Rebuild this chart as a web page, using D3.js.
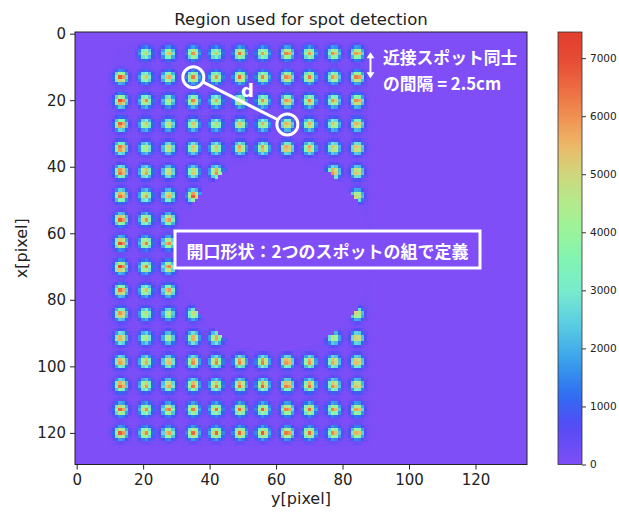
<!DOCTYPE html>
<html>
<head>
<meta charset="utf-8">
<script src="https://cdn.jsdelivr.net/npm/d3@7"></script>
<style>
  body { margin: 0; background: #fff; }
  text { font-family: "DejaVu Sans", sans-serif; fill: #222; }
  .jp { font-family: "Noto Sans CJK JP", "Noto Sans", sans-serif; font-weight: 700; fill: #fff; }
</style>
</head>
<body>
<svg id="chart" width="619" height="513"></svg>
<script>
// Image size in pixels
const imageCols = 136;
const imageRows = 130;

// Spot grid: column centres (horizontal, y[pixel]) and row centres (vertical, x[pixel])
const spotCols = [13.3, 20.8, 27.6, 35.1, 41.9, 49.1, 56.1, 63.4, 70.1, 77.3, 84.4];
const spotRows = [5.9, 13.1, 20.2, 27.3, 34.4, 41.6, 48.7, 55.8, 62.9, 70.1, 77.2, 84.3, 91.5, 98.6, 105.7, 112.9, 120.0];

// Peak counts of each spot (null = no spot at that grid point)
const spotPeaks = [
  [null, 5200, 5600, 6000, 5300, 6300, 5800, 6400, 5900, 6200, 6100],
  [7000, 5400, 6000, 6300, 6000, 6500, 6200, 6400, 6300, 6100, 6600],
  [7200, 6200, 5000, 6300, 5800, 6000, 6100, 6300, 6200, 6200, 6500],
  [7000, 5600, 5300, 5500, 5400, 5600, 5800, 6000, 5800, 5600, 6000],
  [6800, 5200, 5500, 5600, 5800, 6100, 6200, 6300, 6000, 5800, 5900],
  [6900, 6200, 5600, 5500, 6400, null, null, null, null, 6500, 5800],
  [6800, 6000, 6100, 6900, null, null, null, null, null, null, 5400],
  [7000, 6200, 6300, null, null, null, null, null, null, null, null],
  [7100, 6300, 6400, null, null, null, null, null, null, null, null],
  [7100, 6300, 6500, null, null, null, null, null, null, null, null],
  [6700, 5600, 6200, null, null, null, null, null, null, null, null],
  [6300, 5200, 4800, 5000, null, null, null, null, null, null, 5400],
  [6200, 5300, 5000, 6100, 6200, null, null, null, null, 5200, 5800],
  [6300, 6000, 6000, 6400, 6500, 6500, 6600, 6500, 6300, 6200, 6000],
  [6800, 6100, 6200, 6500, 6400, 6600, 6800, 6700, 6600, 6400, 5800],
  [6800, 6100, 6600, 6300, 6400, 6500, 6600, 6500, 6500, 6400, 6100],
  [6900, 6200, 6100, 6500, 6600, 6600, 6700, 6600, 6500, 6300, 5900]
];
const spotSigma = 1.2;

// Circular aperture (pixels): spots inside it are masked out
const aperture = { cx: 59.9, cy: 66.4, r: 29.3 };
// Rectangular area that holds the spot pattern, and its faint background level
const patternArea = { x0: 10, y0: 2.5, x1: 88.5, y1: 124, corner: 10, level: 60 };

// Colour map stops (counts -> colour)
const cmapStops = [0, 700, 1200, 1800, 2500, 3000, 3500, 4000, 4500, 5000, 5500, 6000, 6500, 7000, 7450];
const cmapColors = ["#7f4ef7", "#524cf5", "#2f6ef1", "#3aa2ec", "#5fd2e1", "#78ebcc", "#80f4b4", "#99f59b",
                    "#b4ea8c", "#cfd77c", "#eeb868", "#f09052", "#ec6a40", "#e64a33", "#e23e30"];
const vmax = 7450;

// Tick values
const xTicks = [0, 20, 40, 60, 80, 100, 120];
const yTicks = [0, 20, 40, 60, 80, 100, 120];
const cbarTicks = [0, 1000, 2000, 3000, 4000, 5000, 6000, 7000];

const svg = d3.select("#chart");

const x = d3.scaleLinear().domain([-0.5, imageCols - 0.5]).range([75, 527]);
const y = d3.scaleLinear().domain([-0.5, imageRows - 0.5]).range([32, 464.5]);
const color = d3.scaleLinear().domain(cmapStops).range(cmapColors)
  .interpolate(d3.interpolateRgb).clamp(true);

// ---- Build spot intensities on the pixel grid ----
const cells = new Map();
spotPeaks.forEach((row, ri) => {
  row.forEach((peak, ci) => {
    if (peak == null) return;
    const cx = spotCols[ci], cy = spotRows[ri];
    const c0 = Math.round(cx), r0 = Math.round(cy);
    for (let r = r0 - 4; r <= r0 + 4; r++) {
      for (let c = c0 - 4; c <= c0 + 4; c++) {
        const d2 = (c - cx) ** 2 + (r - cy) ** 2;
        const v = peak * Math.exp(-d2 / (2 * spotSigma * spotSigma));
        const key = r * imageCols + c;
        cells.set(key, (cells.get(key) || 0) + v);
      }
    }
  });
});
const insideAperture = (c, r) => Math.hypot(c - aperture.cx, r - aperture.cy) < aperture.r;
const cellData = [];
cells.forEach((v, key) => {
  const r = Math.floor(key / imageCols), c = key % imageCols;
  if (insideAperture(c, r)) return;
  if (v > 40) cellData.push({ r, c, v: v + patternArea.level });
});

// ---- Image ----
const img = svg.append("g");
img.append("rect")
  .attr("x", x(-0.5)).attr("y", y(-0.5))
  .attr("width", x(imageCols - 0.5) - x(-0.5)).attr("height", y(imageRows - 0.5) - y(-0.5))
  .attr("fill", color(0));

// pattern area minus aperture
const pa = patternArea;
const areaPath = d3.path();
const k = x(1) - x(0);
areaPath.moveTo(x(pa.x0), y(pa.y0 + pa.corner));
areaPath.quadraticCurveTo(x(pa.x0), y(pa.y0), x(pa.x0 + pa.corner), y(pa.y0));
areaPath.lineTo(x(pa.x1), y(pa.y0));
areaPath.lineTo(x(pa.x1), y(pa.y1));
areaPath.lineTo(x(pa.x0), y(pa.y1));
areaPath.closePath();
areaPath.moveTo(x(aperture.cx) + aperture.r * k, y(aperture.cy));
areaPath.arc(x(aperture.cx), y(aperture.cy), aperture.r * k, 0, 2 * Math.PI);
areaPath.closePath();
img.append("path").attr("d", areaPath.toString())
  .attr("fill", color(pa.level)).attr("fill-rule", "evenodd");

img.append("g").attr("shape-rendering", "crispEdges")
  .selectAll("rect").data(cellData).join("rect")
  .attr("x", d => x(d.c - 0.5))
  .attr("y", d => y(d.r - 0.5))
  .attr("width", d => x(d.c + 0.5) - x(d.c - 0.5) + 0.3)
  .attr("height", d => y(d.r + 0.5) - y(d.r - 0.5) + 0.3)
  .attr("fill", d => color(d.v));

// frame
svg.append("rect")
  .attr("x", x(-0.5)).attr("y", y(-0.5))
  .attr("width", x(imageCols - 0.5) - x(-0.5)).attr("height", y(imageRows - 0.5) - y(-0.5))
  .attr("fill", "none").attr("stroke", "#222").attr("stroke-width", 1);

// ---- Axes ----
const xAxis = svg.append("g").attr("transform", `translate(0,${y(imageRows - 0.5)})`)
  .call(d3.axisBottom(x).tickValues(xTicks).tickSize(5).tickPadding(5));
const yAxis = svg.append("g").attr("transform", `translate(${x(-0.5)},0)`)
  .call(d3.axisLeft(y).tickValues(yTicks).tickSize(5).tickPadding(4));
[xAxis, yAxis].forEach(g => {
  g.select(".domain").remove();
  g.selectAll(".tick line").attr("stroke", "#222");
  g.selectAll(".tick text").style("font-family", "DejaVu Sans").style("font-size", "15px").attr("fill", "#222");
});

svg.append("text").attr("x", (x(-0.5) + x(imageCols - 0.5)) / 2).attr("y", 25)
  .attr("text-anchor", "middle").style("font-size", "16.5px")
  .text("Region used for spot detection");
svg.append("text").attr("x", (x(-0.5) + x(imageCols - 0.5)) / 2).attr("y", 504)
  .attr("text-anchor", "middle").style("font-size", "16px").text("y[pixel]");
svg.append("text")
  .attr("transform", `translate(27,${(y(-0.5) + y(imageRows - 0.5)) / 2}) rotate(-90)`)
  .attr("text-anchor", "middle").style("font-size", "16px").text("x[pixel]");

// ---- Colour bar ----
const cb = { x: 558, w: 24 };
const cy = d3.scaleLinear().domain([0, vmax]).range([y(imageRows - 0.5), y(-0.5)]);
const grad = svg.append("defs").append("linearGradient").attr("id", "cbar")
  .attr("x1", 0).attr("y1", 1).attr("x2", 0).attr("y2", 0);
d3.range(0, 41).forEach(i => {
  const v = vmax * i / 40;
  grad.append("stop").attr("offset", i / 40).attr("stop-color", color(v));
});
svg.append("rect").attr("x", cb.x).attr("y", cy(vmax)).attr("width", cb.w)
  .attr("height", cy(0) - cy(vmax)).attr("fill", "url(#cbar)")
  .attr("stroke", "#333").attr("stroke-width", 0.8);
const cAxis = svg.append("g").attr("transform", `translate(${cb.x + cb.w},0)`)
  .call(d3.axisRight(cy).tickValues(cbarTicks).tickSize(4).tickPadding(4).tickFormat(d3.format("d")));
cAxis.select(".domain").remove();
cAxis.selectAll(".tick line").attr("stroke", "#333");
cAxis.selectAll(".tick text").style("font-family", "DejaVu Sans").style("font-size", "10.5px").attr("fill", "#222");

// ---- Annotations ----
const ann = svg.append("g");
const pA = [x(spotCols[3]), y(spotRows[1])];
const pB = [x(spotCols[7]), y(spotRows[3])];
const rr = 10.5;
[pA, pB].forEach(p => ann.append("circle").attr("cx", p[0]).attr("cy", p[1]).attr("r", rr)
  .attr("fill", "none").attr("stroke", "#fff").attr("stroke-width", 3));
const dx = pB[0] - pA[0], dy = pB[1] - pA[1], len = Math.hypot(dx, dy);
ann.append("line")
  .attr("x1", pA[0] + dx / len * rr).attr("y1", pA[1] + dy / len * rr)
  .attr("x2", pB[0] - dx / len * rr).attr("y2", pB[1] - dy / len * rr)
  .attr("stroke", "#fff").attr("stroke-width", 3);
ann.append("text").attr("x", (pA[0] + pB[0]) / 2 + 7).attr("y", (pA[1] + pB[1]) / 2 - 4)
  .attr("text-anchor", "middle")
  .style("font-family", "DejaVu Sans").style("font-weight", "700").style("font-size", "18px")
  .style("fill", "#fff").text("d");

// spacing arrow between neighbouring rows
const ax = x(88.4), ay0 = y(spotRows[0]) - 1, ay1 = y(spotRows[1]) + 1;
ann.append("line").attr("x1", ax).attr("x2", ax).attr("y1", ay0 + 5).attr("y2", ay1 - 5)
  .attr("stroke", "#fff").attr("stroke-width", 2);
ann.append("path").attr("d", `M${ax - 4},${ay0 + 6}L${ax},${ay0}L${ax + 4},${ay0 + 6}Z`).attr("fill", "#fff");
ann.append("path").attr("d", `M${ax - 4},${ay1 - 6}L${ax},${ay1}L${ax + 4},${ay1 - 6}Z`).attr("fill", "#fff");
ann.append("text").attr("class", "jp").attr("x", 383).attr("y", 64).style("font-size", "16.8px").text("近接スポット同士");
ann.append("text").attr("class", "jp").attr("x", 383).attr("y", 90).style("font-size", "16.8px").text("の間隔 = 2.5cm");

// aperture label box
ann.append("rect").attr("x", 175).attr("y", 231).attr("width", 305).attr("height", 37)
  .attr("fill", color(0)).attr("stroke", "#fff").attr("stroke-width", 3);
ann.append("text").attr("class", "jp").attr("x", 327.5).attr("y", 250)
  .attr("text-anchor", "middle").attr("dominant-baseline", "central")
  .style("font-size", "17px").text("開口形状：2つのスポットの組で定義");
</script>
</body>
</html>
